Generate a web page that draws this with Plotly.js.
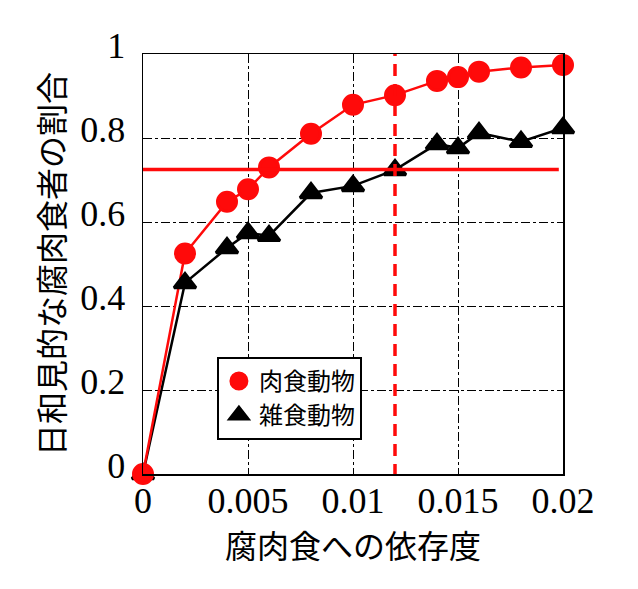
<!DOCTYPE html>
<html>
<head>
<meta charset="utf-8">
<script src="https://cdn.plot.ly/plotly-3.0.1.min.js"></script>
<style>
  html, body { margin: 0; padding: 0; background: #fff; }
  #chart { width: 638px; height: 589px; }
</style>
</head>
<body>
<div id="chart"></div>
<script>
// dependence on carrion (x) and share of opportunistic scavengers (y)
const dependence = [0, 0.002, 0.004, 0.005, 0.006, 0.008, 0.01, 0.012, 0.014, 0.015, 0.016, 0.018, 0.02];
const carnivores = [0, 0.525, 0.648, 0.678, 0.730, 0.810, 0.879, 0.902, 0.936, 0.945, 0.958, 0.968, 0.974];
const omnivores  = [0, 0.455, 0.538, 0.574, 0.567, 0.669, 0.686, 0.724, 0.786, 0.776, 0.812, 0.791, 0.824];

// reference lines
const hLineX = [0, 0.0198];
const hLineY = [0.725, 0.725];
const vLineX = [0.012, 0.012];
const vLineY = [-0.005, 1.015];

const tickVals = [0, 0.005, 0.01, 0.015, 0.02];
const tickText = ['0', '0.005', '0.01', '0.015', '0.02'];
const yTickVals = [0, 0.2, 0.4, 0.6, 0.8, 1];
const yTickText = ['0', '0.2', '0.4', '0.6', '0.8', '1'];

const SERIF = "Liberation Serif";
const CJK = "Noto Sans CJK JP, sans-serif";
const RED = '#ff0a0a';

// lines without legend entries, markers carry the legend
const traces = [
    {
        x: dependence, y: omnivores,
        mode: 'lines', showlegend: false,
        line: { color: '#000', width: 2.5 }
    },
    {
        x: dependence, y: carnivores,
        mode: 'lines', showlegend: false,
        line: { color: RED, width: 2.5 }
    },
    {
        x: dependence, y: omnivores,
        name: '雑食動物', legendrank: 2,
        mode: 'markers',
        marker: { symbol: 'triangle-up', size: 19, color: '#000', line: { color: '#000', width: 3 } },
        cliponaxis: false
    },
    {
        x: dependence, y: carnivores,
        name: '肉食動物', legendrank: 1,
        mode: 'markers',
        marker: { symbol: 'circle', size: 19, color: RED, line: { color: RED, width: 3 } },
        cliponaxis: false
    },
    {
        x: hLineX, y: hLineY,
        mode: 'lines', showlegend: false, hoverinfo: 'skip',
        line: { color: RED, width: 3.5 }
    },
    {
        x: vLineX, y: vLineY,
        mode: 'lines', showlegend: false, hoverinfo: 'skip',
        cliponaxis: false,
        line: { color: RED, width: 3.5, dash: '12px,8px' }
    }
];

const axisBase = {
    showline: true, linecolor: '#000', linewidth: 1.5, mirror: true,
    showgrid: true, gridcolor: '#000', gridwidth: 1, griddash: 'dashdot',
    zeroline: false, ticks: '', fixedrange: true
};

const layout = {
    width: 638, height: 589,
    paper_bgcolor: '#fff', plot_bgcolor: '#fff',
    margin: { l: 143, r: 75, t: 54, b: 115 },
    showlegend: true,
    legend: {
        x: 0.176, y: 0.279, xanchor: 'left', yanchor: 'top',
        bgcolor: '#fff', bordercolor: '#000', borderwidth: 2,
        font: { family: CJK, size: 24, color: '#000' },
        itemsizing: 'trace', itemwidth: 30, tracegroupgap: 2
    },
    xaxis: {
        ...axisBase,
        range: [0, 0.02],
        tickvals: tickVals, ticktext: tickText,
        ticklabelstandoff: -6,
        tickfont: { family: SERIF, size: 36, color: '#000' },
        title: { text: '腐肉食への依存度', font: { family: CJK, size: 32, color: '#000' }, standoff: 0 }
    },
    yaxis: {
        ...axisBase,
        range: [0, 1],
        tickvals: yTickVals, ticktext: yTickText,
        ticklabelstandoff: 9,
        ticklabelshift: -9,
        tickfont: { family: SERIF, size: 36, color: '#000' },
        title: { text: '日和見的な腐肉食者の割合', font: { family: CJK, size: 32, color: '#000' }, standoff: 6 }
    }
};

Plotly.newPlot('chart', traces, layout, { displayModeBar: false, staticPlot: true });
</script>
</body>
</html>
